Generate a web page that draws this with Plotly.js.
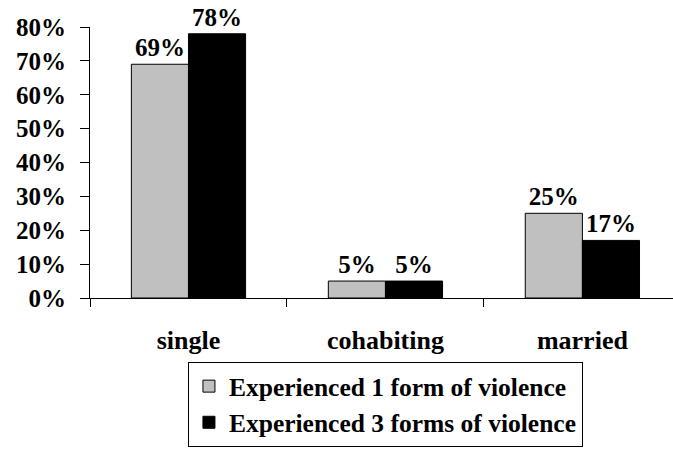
<!DOCTYPE html>
<html>
<head>
<meta charset="utf-8">
<script src="https://cdn.plot.ly/plotly-3.0.1.min.js"></script>
<style>html,body{margin:0;padding:0;background:#fff;}#chart{width:673px;height:449px;}</style>
</head>
<body>
<div id="chart"></div>
<script>
const categories = ["single", "cohabiting", "married"];
const seriesNames = ["Experienced 1 form of violence", "Experienced 3 forms of violence"];
const oneForm = [69, 5, 25];
const threeForms = [78, 5, 17];
const yTicks = [0, 10, 20, 30, 40, 50, 60, 70, 80];

const fam = "'Times New Roman', 'Liberation Serif', 'DejaVu Serif', serif";
const font = {family: fam, size: 25, color: "#000", weight: "bold"};
const bigFont = {family: fam, size: 26, color: "#000", weight: "bold"};

const traces = [
  {type: "bar", name: seriesNames[0], x: categories, y: oneForm,
   marker: {color: "#C0C0C0", line: {color: "#000", width: 1}},
   text: oneForm.map(v => v + "%"), textposition: "outside", cliponaxis: false,
   textfont: font, hoverinfo: "none"},
  {type: "bar", name: seriesNames[1], x: categories, y: threeForms,
   marker: {color: "#000000", line: {color: "#000", width: 1}},
   text: threeForms.map(v => v + "%"), textposition: "outside", cliponaxis: false,
   textfont: font, hoverinfo: "none"}
];

const layout = {
  width: 673, height: 449,
  margin: {l: 90, r: 0, t: 27, b: 151},
  paper_bgcolor: "#fff", plot_bgcolor: "#fff",
  font: font,
  barmode: "group", bargap: 0.42, bargroupgap: 0,
  showlegend: true,
  legend: {x: 0.168, xanchor: "left", y: -0.55, yanchor: "bottom",
           bordercolor: "#000", borderwidth: 1,
           font: {family: fam, size: 25.5, color: "#000", weight: "bold"}, tracegroupgap: 0,
           itemwidth: 30, bgcolor: "#fff"},
  xaxis: {type: "category", range: [-0.5, 2.46], showline: true, linecolor: "#000", linewidth: 1,
          ticks: "outside", tickson: "boundaries", ticklen: 8, tickcolor: "#000",
          tickfont: bigFont, ticklabelstandoff: 19, showgrid: false, zeroline: false, fixedrange: true},
  yaxis: {range: [0, 80], tickvals: yTicks, ticktext: yTicks.map(v => v + "%"),
          tickfont: font,
          showline: true, linecolor: "#000", linewidth: 1, ticks: "outside", ticklen: 9,
          tickcolor: "#000", ticklabelstandoff: 9, showgrid: false, zeroline: false, fixedrange: true}
};

Plotly.newPlot("chart", traces, layout, {displayModeBar: false, staticPlot: true});
</script>
</body>
</html>
